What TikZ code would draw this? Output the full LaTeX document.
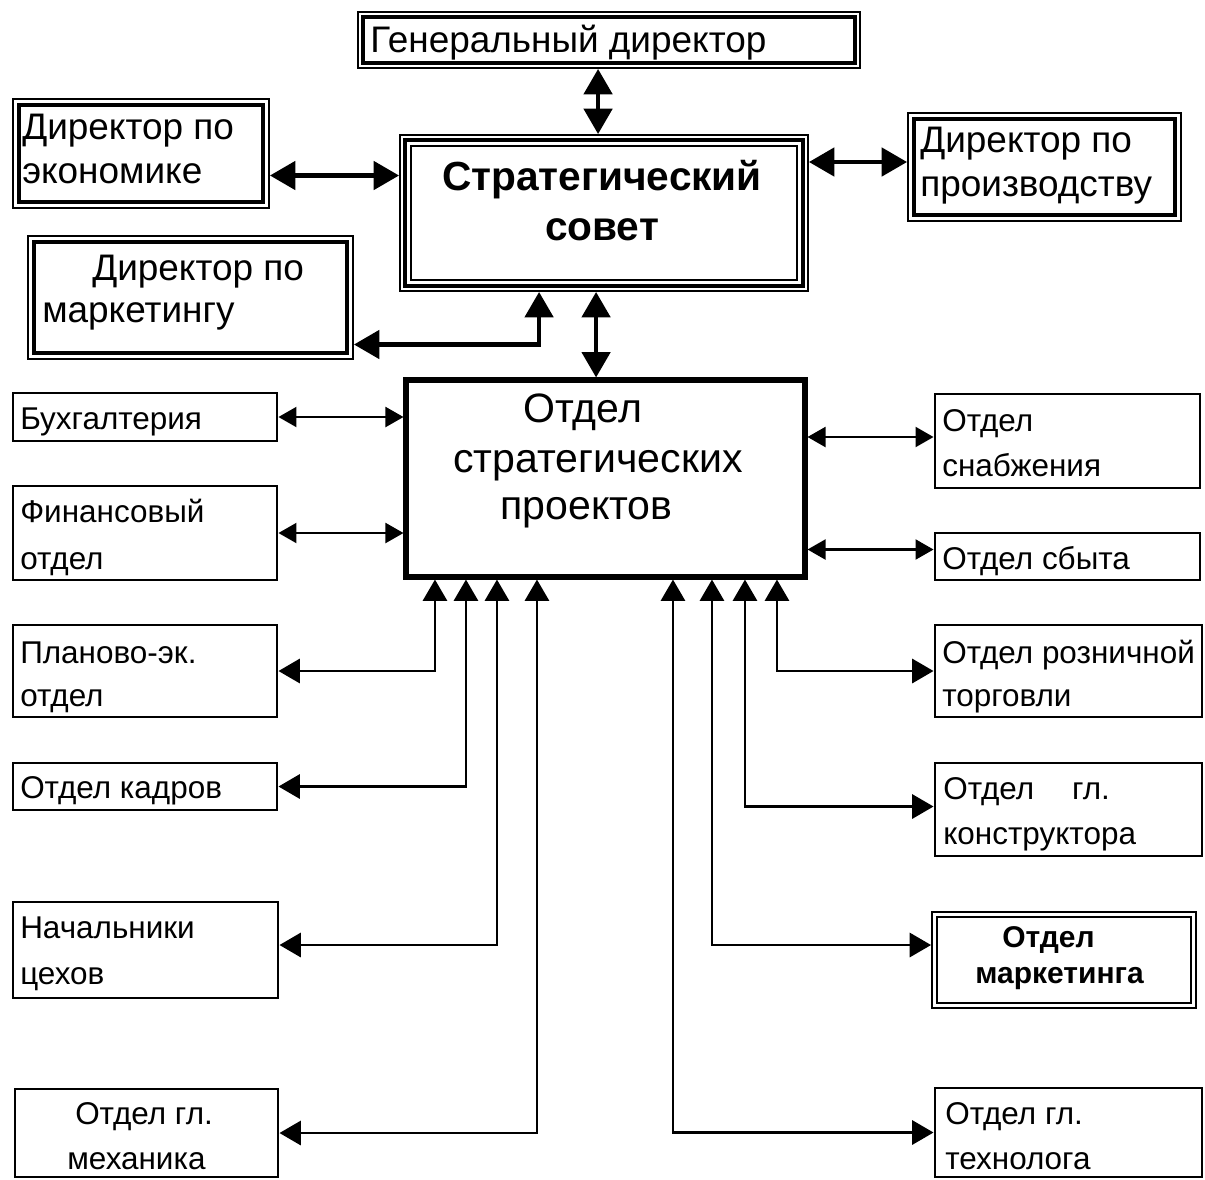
\documentclass[tikz,border=0pt]{standalone}
\usepackage{fontspec}
\setmainfont{Liberation Sans}
\usetikzlibrary{arrows.meta,calc,fit}

\tikzset{
  box/.style={draw, line width=2.2pt, inner sep=0pt},
  bigbox/.style={draw, line width=3.8pt, inner sep=0pt},
  thinbox/.style={draw, line width=1.4pt, inner sep=0pt},
  % text lines
  tdir/.style={inner sep=0pt, anchor=base west, font=\fontsize{27.7}{32}\selectfont},
  tdep/.style={inner sep=0pt, anchor=base west, font=\fontsize{23.6}{28}\selectfont},
  tdepb/.style={inner sep=0pt, anchor=base west, font=\bfseries\fontsize{22.5}{27}\selectfont},
  tosp/.style={inner sep=0pt, anchor=base west, font=\fontsize{30.8}{36}\selectfont},
  tsc/.style={inner sep=0pt, anchor=base, font=\bfseries\fontsize{30.5}{36}\selectfont},
  % connectors
  arrbig/.style={line width=3.4pt,
    {Triangle[length=19pt,width=21pt]}-{Triangle[length=19pt,width=21pt]}},
  arrsm/.style={line width=1.6pt,
    {Triangle[length=13.5pt,width=15pt]}-{Triangle[length=13.5pt,width=15pt]}},
  arrmid/.style={line width=2.2pt,
    {Triangle[length=16pt,width=18pt]}-{Triangle[length=16pt,width=18pt]}},
}

\begin{document}
\begin{tikzpicture}[x=0.75pt, y=-0.75pt]
\fill[white] (0,0) rectangle (1205,1179);
\useasboundingbox (0,0) rectangle (1205,1179);

% ---- management boxes ----
\node[thinbox, fit={(358,12) (860,68)}] (gd) {};
\node[thinbox, fit={(13,99) (269,208)}] (eco) {};
\node[thinbox, fit={(908,113) (1181,221)}] (prod) {};
\node[thinbox, fit={(28,236) (353,359)}] (dmk) {};
\node[thinbox, fit={(400,135) (808,291)}] (sc) {};
\node[bigbox, fit={(406,380) (805,577)}] (osp) {};

% inner thick frames of the director boxes
\foreach \n/\d in {gd/6, eco/7, prod/7, dmk/7}
  \draw[line width=3.2pt] ($(\n.north west)+(\d,\d)$) rectangle ($(\n.south east)+(-\d,-\d)$);
% triple frame of the council
\draw[line width=3pt] ($(sc.north west)+(6,6)$) rectangle ($(sc.south east)+(-6,-6)$);
\draw[line width=1.4pt] ($(sc.north west)+(12,12)$) rectangle ($(sc.south east)+(-12,-12)$);

% ---- departments, left column ----
\node[box, fit={(13,393) (277,441)}] (buh) {};
\node[box, fit={(13,486) (277,580)}] (fin) {};
\node[box, fit={(13,625) (277,717)}] (plan) {};
\node[box, fit={(13,763) (277,810)}] (kadr) {};
\node[box, fit={(13,902) (278,998)}] (nach) {};
\node[box, fit={(15,1089) (278,1177)}] (mech) {};

% ---- departments, right column ----
\node[box, fit={(935,394) (1200,488)}] (snab) {};
\node[box, fit={(935,533) (1200,580)}] (sbyt) {};
\node[box, fit={(935,625) (1202,717)}] (rozn) {};
\node[box, fit={(935,763) (1202,856)}] (konstr) {};
\node[thinbox, fit={(932,912) (1196,1008)}] (mkt) {};
\draw[line width=1.4pt] ($(mkt.north west)+(6,6)$) rectangle ($(mkt.south east)+(-6,-6)$);
\node[box, fit={(935,1088) (1202,1177)}] (tech) {};

% ---- texts ----
\node[tdir] (gd-t) at (370,52) {Генеральный директор};
\node[tdir] (eco-t1) at (22,139) {Директор по};
\node[tdir] (eco-t2) at (22,183) {экономике};
\node[tdir] (prod-t1) at (920,152) {Директор по};
\node[tdir] (prod-t2) at (920,196) {производству};
\node[tdir] (dmk-t1) at (92,280) {Директор по};
\node[tdir] (dmk-t2) at (42,322) {маркетингу};
\node[tsc] (sc-t1) at (602,190) {Стратегический};
\node[tsc] (sc-t2) at (602,240) {совет};
\node[tosp] (osp-t1) at (523,422) {Отдел};
\node[tosp] (osp-t2) at (453,472) {стратегических};
\node[tosp] (osp-t3) at (500,519) {проектов};

\node[tdep] (buh-t) at (20,429) {Бухгалтерия};
\node[tdep] (fin-t1) at (20,522) {Финансовый};
\node[tdep] (fin-t2) at (20,569) {отдел};
\node[tdep] (plan-t1) at (20,663) {Планово-эк.};
\node[tdep] (plan-t2) at (20,706) {отдел};
\node[tdep] (kadr-t) at (20,798) {Отдел кадров};
\node[tdep] (nach-t1) at (20,938) {Начальники};
\node[tdep] (nach-t2) at (20,984) {цехов};
\node[tdep] (mech-t1) at (75,1124) {Отдел гл.};
\node[tdep] (mech-t2) at (67,1169) {механика};

\node[tdep] (snab-t1) at (942,431) {Отдел};
\node[tdep] (snab-t2) at (942,476) {снабжения};
\node[tdep] (sbyt-t) at (942,569) {Отдел сбыта};
\node[tdep] (rozn-t1) at (942,663) {Отдел розничной};
\node[tdep] (rozn-t2) at (942,706) {торговли};
\node[tdep] (konstr-t1) at (943,799) {Отдел\hspace{1.2em}гл.};
\node[tdep] (konstr-t2) at (943,844) {конструктора};
\node[tdepb] (mkt-t1) at (1002,947) {Отдел};
\node[tdepb] (mkt-t2) at (975,983) {маркетинга};
\node[tdep] (tech-t1) at (945,1124) {Отдел гл.};
\node[tdep] (tech-t2) at (945,1169) {технолога};

% ---- connectors between management boxes ----
\path ($(gd.south west)+(241,0)$) coordinate (c-gd)
      ($(eco.east)+(0,22)$) coordinate (c-eco)
      ($(prod.west)+(0,-5)$) coordinate (c-prod)
      ($(sc.south west)+(140,0)$) coordinate (c-dmk)
      ($(sc.south west)+(197,0)$) coordinate (c-osp);
\draw[arrbig] (c-gd) -- (c-gd |- sc.north);
\draw[arrbig] (c-eco) -- (c-eco -| sc.west);
\draw[arrbig] (c-prod -| sc.east) -- (c-prod);
\draw[arrbig] (c-dmk) |- ($(dmk.east)+(0,47)$);
\draw[arrbig] (c-osp) -- (c-osp |- osp.north);

% ---- side connectors of the projects department ----
\draw[arrsm] (buh.east) -- (buh.east -| osp.west);
\draw[arrsm] (fin.east) -- (fin.east -| osp.west);
\path ($(snab.west)+(0,-4)$) coordinate (c-snab)
      ($(sbyt.west)+(0,-7)$) coordinate (c-sbyt);
\draw[arrsm] (c-snab -| osp.east) -- (c-snab);
\draw[arrsm] (c-sbyt -| osp.east) -- (c-sbyt);

% ---- connectors from the bottom edge ----
\draw[arrmid] ($(osp.south west)+(31.5,0)$) |- (plan.east);
\draw[arrmid] ($(osp.south west)+(62.5,0)$) |- (kadr.east);
\draw[arrmid] ($(osp.south west)+(93.5,0)$) |- ($(nach.east)+(0,-5)$);
\draw[arrmid] ($(osp.south west)+(133.5,0)$) |- (mech.east);
\draw[arrmid] ($(osp.south west)+(373.5,0)$) |- (rozn.west);
\draw[arrmid] ($(osp.south west)+(341.5,0)$) |- ($(konstr.west)+(0,-3)$);
\draw[arrmid] ($(osp.south west)+(308.5,0)$) |- ($(mkt.west)+(0,-15)$);
\draw[arrmid] ($(osp.south west)+(269.5,0)$) |- (tech.west);
\end{tikzpicture}
\end{document}
